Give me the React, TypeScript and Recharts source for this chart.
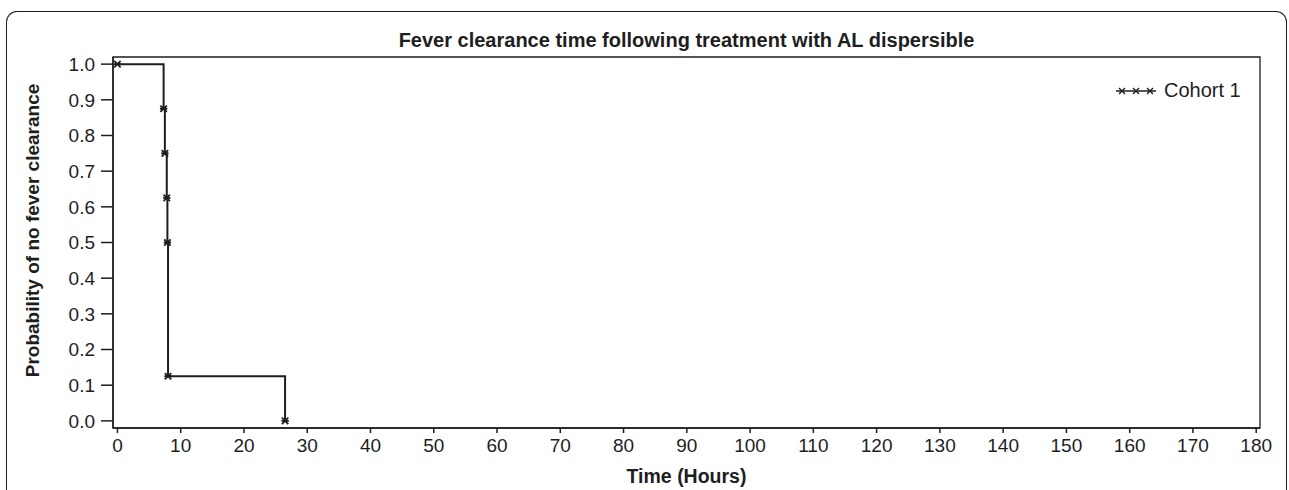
import React from 'react';
import { ComposedChart, Line, XAxis, YAxis, ReferenceArea, Legend } from 'recharts';

const timeHours = [0, 7.3, 7.5, 7.8, 7.9, 8.0, 26.5];
const survival = [1.0, 0.875, 0.75, 0.625, 0.5, 0.125, 0.0];
const xTicks = [0, 10, 20, 30, 40, 50, 60, 70, 80, 90, 100, 110, 120, 130, 140, 150, 160, 170, 180];
const yTicks = [0, 0.1, 0.2, 0.3, 0.4, 0.5, 0.6, 0.7, 0.8, 0.9, 1.0];
const seriesName = 'Cohort 1';
const chartTitle = 'Fever clearance time following treatment with AL dispersible';
const xTitle = 'Time (Hours)';
const yTitle = 'Probability of no fever clearance';

const data = timeHours.map((t, i) => ({ t, s: survival[i] }));

const FONT = '"Liberation Sans", Arial, Helvetica, sans-serif';
const INK = '#1e1e1e';

const CrossDot = (props: any) => {
  const { cx, cy, index } = props;
  if (cx == null || cy == null) return null;
  const r = 3.2;
  return (
    <path
      key={`d${index}`}
      d={`M${cx - r},${cy - r}L${cx + r},${cy + r}M${cx - r},${cy + r}L${cx + r},${cy - r}M${cx - r - 0.5},${cy}L${cx + r + 0.5},${cy}`}
      stroke={INK}
      strokeWidth={1.8}
      fill="none"
    />
  );
};

const LegendContent = () => (
  <div style={{ display: 'flex', alignItems: 'center', fontFamily: FONT, fontSize: 20, color: INK, whiteSpace: 'nowrap' }}>
    <svg width={42} height={12} style={{ display: 'block' }}>
      <line x1={1} y1={6} x2={41} y2={6} stroke={INK} strokeWidth={1.6} />
      {[3, 17, 31].map((x, i) => (
        <path key={i} d={`M${x + 1},${3}L${x + 7},${9}M${x + 1},${9}L${x + 7},${3}`} stroke={INK} strokeWidth={1.4} />
      ))}
    </svg>
    <span style={{ marginLeft: 7 }}>{seriesName}</span>
  </div>
);

export default function App() {
  return (
    <div style={{ position: 'absolute', left: 0, top: 0, width: 1289, height: 490, overflow: 'hidden', background: '#fff' }}>
      <div
        style={{
          position: 'absolute',
          left: 6,
          top: 11,
          width: 1279,
          height: 520,
          borderTop: `1.5px solid ${INK}`,
          borderLeft: `1.5px solid ${INK}`,
          borderRight: `1.5px solid ${INK}`,
          borderRadius: '11px 11px 0 0',
        }}
      />
      <div
        style={{
          position: 'absolute',
          left: 113,
          width: 1147,
          top: 29,
          textAlign: 'center',
          fontFamily: FONT,
          fontWeight: 'bold',
          fontSize: 20,
          color: INK,
          lineHeight: '22px',
        }}
      >
        {chartTitle}
      </div>
      <div style={{ position: 'absolute', left: 0, top: 0 }}>
        <ComposedChart width={1289} height={490} data={data} margin={{ top: 57, right: 29, bottom: 0, left: 0 }}>
          <XAxis
            dataKey="t"
            type="number"
            domain={[-0.7, 180.6]}
            ticks={xTicks}
            interval={0}
            height={62}
            tickSize={5}
            tickMargin={6}
            stroke={INK}
            strokeWidth={1.5}
            tick={{ fontFamily: FONT, fontSize: 19, fill: INK }}
            allowDataOverflow
            label={{
              content: (p: any) => {
                const vb = p.viewBox || {};
                const cx = vb.x + vb.width / 2;
                return (
                  <text x={cx} y={vb.y + 55} textAnchor="middle" fontFamily={FONT} fontWeight="bold" fontSize={19.5} fill={INK}>
                    {xTitle}
                  </text>
                );
              },
            }}
          />
          <YAxis
            type="number"
            domain={[-0.02, 1.02]}
            ticks={yTicks}
            interval={0}
            width={113}
            tickSize={12}
            tickMargin={6}
            stroke={INK}
            strokeWidth={1.5}
            tickFormatter={(v: number) => v.toFixed(1)}
            tick={{ fontFamily: FONT, fontSize: 19, fill: INK }}
            allowDataOverflow
            label={{
              content: (p: any) => {
                const vb = p.viewBox || {};
                const x = vb.x + 39;
                const y = vb.y + vb.height / 2 - 12;
                return (
                  <text x={x} y={y} transform={`rotate(-90, ${x}, ${y})`} textAnchor="middle" fontFamily={FONT} fontWeight="bold" fontSize={19} fill={INK}>
                    {yTitle}
                  </text>
                );
              },
            }}
          />
          <ReferenceArea x1={-0.7} x2={180.6} y1={-0.02} y2={1.02} fill="none" stroke={INK} strokeWidth={1.3} ifOverflow="visible" />
          <Legend
            layout="horizontal"
            verticalAlign="middle"
            align="center"
            wrapperStyle={{ left: 1115, top: 79, width: 180 }}
            content={LegendContent}
          />
          <Line
            type="stepAfter"
            dataKey="s"
            name={seriesName}
            stroke={INK}
            strokeWidth={2}
            dot={CrossDot}
            activeDot={false}
            isAnimationActive={false}
          />
        </ComposedChart>
      </div>
    </div>
  );
}
